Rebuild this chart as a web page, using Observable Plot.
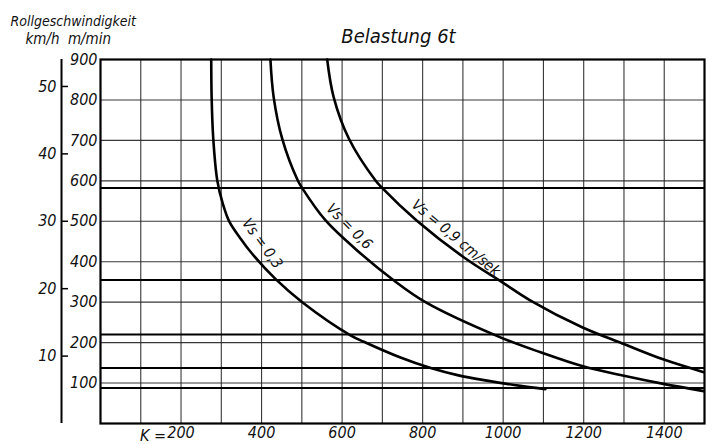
<!DOCTYPE html>
<html><head><meta charset="utf-8">
<script src="https://cdn.jsdelivr.net/npm/d3@7"></script>
<script src="https://cdn.jsdelivr.net/npm/@observablehq/plot@0.6"></script>
<style>body{margin:0;background:#fff}</style>
</head><body><div id="chart"></div>
<script>
// Tick values
const kTicks = [200, 400, 600, 800, 1000, 1200, 1400];
const kGrid = [100, 200, 300, 400, 500, 600, 700, 800, 900, 1000, 1100, 1200, 1300, 1400];
const mTicks = [100, 200, 300, 400, 500, 600, 700, 800, 900];
const mGrid = [100, 200, 300, 400, 500, 600, 700, 800];
const kmhTicks = [10, 20, 30, 40, 50];
// extra horizontal lines (m/min)
const extraLines = [582, 355, 220, 137, 88];

// Curves: K values and Rollgeschwindigkeit (m/min)
const vs03K = [275, 276, 280, 290, 303, 320, 348, 373, 435, 501, 621, 654, 745, 820, 889, 960, 1043, 1105];
const vs03M = [900, 807, 705, 601, 546, 499, 457, 424, 357, 300, 218, 202, 163, 137, 119, 106, 93, 85];
const vs06K = [422, 430, 451, 490, 501, 559, 643, 728, 807, 993, 1093, 1196, 1300, 1398, 1498];
const vs06M = [900, 807, 705, 601, 582, 502, 423, 354, 300, 213, 176, 142, 118, 98, 80];
const vs09K = [563, 579, 617, 683, 700, 785, 902, 998, 1068, 1196, 1296, 1399, 1498];
const vs09M = [900, 807, 704, 601, 582, 502, 411, 349, 304, 238, 198, 158, 127];

const series = [
  {name: "0,3", K: vs03K, M: vs03M},
  {name: "0,6", K: vs06K, M: vs06M},
  {name: "0,9", K: vs09K, M: vs09M}
];
const curveData = series.flatMap(s => s.K.map((k, i) => ({s: s.name, K: k, M: s.M[i]})));

const curveLabels = [
  {text: "Vs = 0,3", K: 402, M: 445},
  {text: "Vs = 0,6", K: 618, M: 487},
  {text: "Vs = 0,9 cm/sek", K: 883, M: 459}
];
const labelAngles = [54, 45, 40];

const FONT = "'Liberation Sans Narrow', 'DejaVu Sans Condensed', 'Roboto', sans-serif";

const chart = Plot.plot({
  width: 713, height: 444,
  marginLeft: 100, marginTop: 59, marginRight: 9, marginBottom: 21,
  style: {fontFamily: FONT, fontStyle: "italic", fontSize: "16px", color: "#111", background: "#fff", overflow: "visible"},
  x: {domain: [0, 1500]},
  y: {domain: [0, 900]},
  marks: [
    Plot.gridX(kGrid, {stroke: "#222", strokeOpacity: 0.9, strokeWidth: 1.1}),
    Plot.gridY(mGrid, {stroke: "#222", strokeOpacity: 0.9, strokeWidth: 1.1}),
    Plot.ruleY(extraLines, {stroke: "#000", strokeWidth: 2}),
    Plot.frame({stroke: "#000", strokeWidth: 2.2}),
    Plot.line(curveData, {x: "K", y: "M", z: "s", stroke: "#000", strokeWidth: 2.6, curve: "catmull-rom"}),
    Plot.text(curveLabels, {x: "K", y: "M", text: "text", rotate: (d, i) => labelAngles[i], fontSize: 15, fill: "#111", lineAnchor: "middle"}),
    Plot.axisX(kTicks, {tickSize: 0, tickPadding: 3, fontSize: 16, tickFormat: d => String(d), label: null}),
    Plot.text([kTicks[0]], {x: d => d, frameAnchor: "bottom", text: () => "K =", textAnchor: "end", dx: -15, dy: 12, fontSize: 16, lineAnchor: "middle"}),
    Plot.axisY(mTicks, {tickSize: 0, tickPadding: 3, fontSize: 16, label: null}),
    Plot.axisY(kmhTicks.map(k => k * 1000 / 60), {tickSize: 7, tickPadding: 5, dx: -32, fontSize: 16, tickFormat: d => String(Math.round(d * 60 / 1000)), stroke: "#000", strokeWidth: 1.5, label: null}),
    Plot.ruleX([0], {dx: -39, y1: 0, y2: 900, stroke: "#000", strokeWidth: 2}),
    Plot.text(["Belastung 6t"], {frameAnchor: "top", text: d => d, dx: -4, dy: -23, fontSize: 20, lineAnchor: "middle"}),
    Plot.text(["Rollgeschwindigkeit"], {frameAnchor: "top-left", text: d => d, dx: -90, dy: -38, fontSize: 14, textAnchor: "start", lineAnchor: "middle"}),
    Plot.text(["km/h"], {frameAnchor: "top-left", text: d => d, dx: -58, dy: -20, fontSize: 15, textAnchor: "middle", lineAnchor: "middle"}),
    Plot.text(["m/min"], {frameAnchor: "top-left", text: d => d, dx: -11, dy: -20, fontSize: 15, textAnchor: "middle", lineAnchor: "middle"})
  ]
});
document.getElementById("chart").appendChild(chart);
</script>
</body></html>
